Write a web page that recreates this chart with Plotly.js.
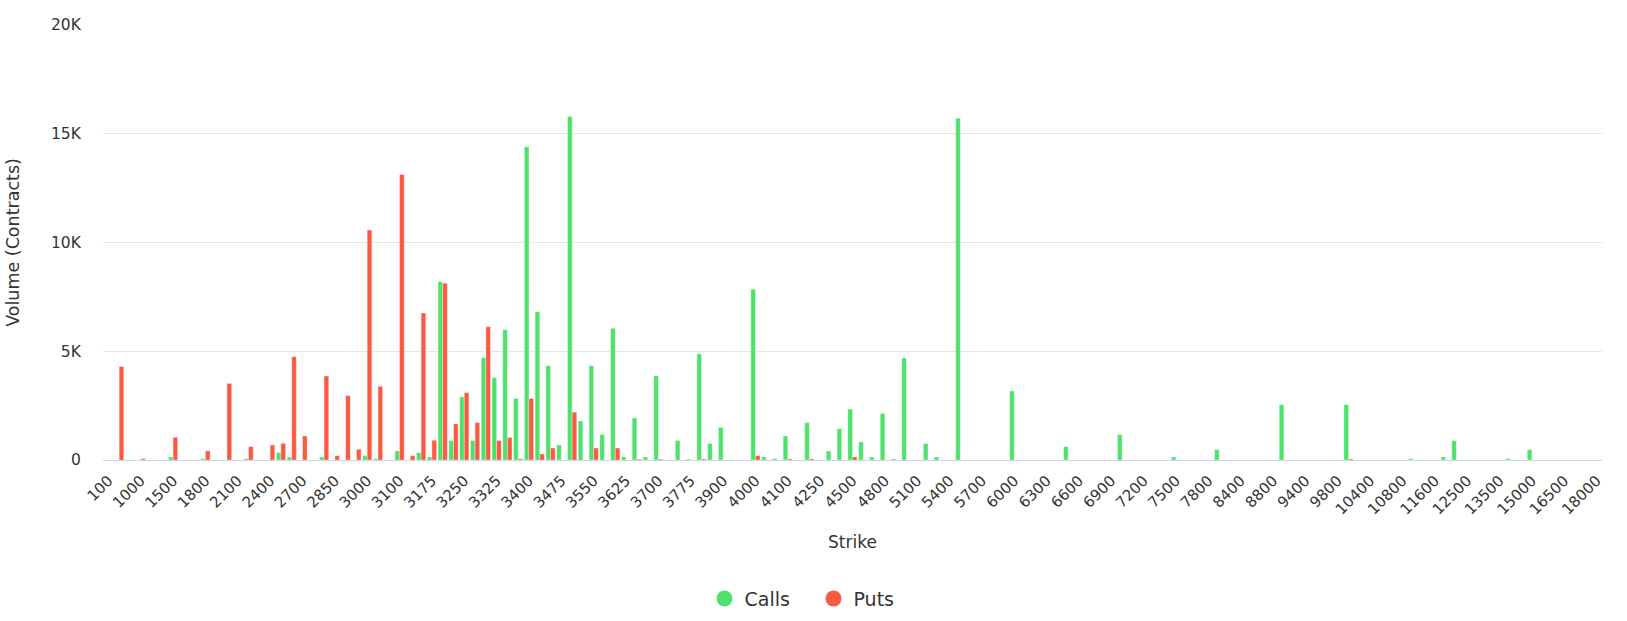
<!DOCTYPE html>
<html>
<head>
<meta charset="utf-8">
<script src="https://cdn.plot.ly/plotly-3.0.1.min.js"></script>
<style>
  html, body { margin: 0; padding: 0; background: #ffffff; }
  #chart { width: 1627px; height: 621px; }
</style>
</head>
<body>
<div id="chart"></div>
<script>
// Strike categories (every third one is labelled on the axis)
const strikes = [
  "100","500","800","1000","1200","1400","1500","1600","1700","1800",
  "1900","2000","2100","2200","2300","2400","2500","2600","2700","2750",
  "2800","2850","2900","2950","3000","3050","3075","3100","3125","3150",
  "3175","3200","3225","3250","3275","3300","3325","3350","3375","3400",
  "3425","3450","3475","3500","3525","3550","3575","3600","3625","3650",
  "3675","3700","3725","3750","3775","3800","3850","3900","3950","3975",
  "4000","4050","4075","4100","4150","4200","4250","4300","4400","4500",
  "4600","4700","4800","4900","5000","5100","5200","5300","5400","5500",
  "5600","5700","5800","5900","6000","6100","6200","6300","6400","6500",
  "6600","6700","6800","6900","7000","7100","7200","7300","7400","7500",
  "7600","7700","7800","8000","8200","8400","8500","8600","8800","9000",
  "9200","9400","9500","9600","9800","10000","10200","10400","10500","10600",
  "10800","11000","11200","11600","11800","12000","12500","12800","13000","13500",
  "14000","14500","15000","15500","16000","16500","17000","17500","18000"
];

// Call volume per strike (contracts)
const calls = [
  0,0,0,0,0,0,140,0,0,60,
  0,0,0,60,0,0,340,140,0,0,
  140,0,0,0,200,60,0,420,0,337,
  140,8200,895,2900,895,4705,3786,5993,2828,14400,
  6820,4337,690,15790,1793,4337,1170,6054,138,1931,
  138,3862,0,897,40,4874,760,1502,0,0,
  7847,138,65,1104,0,1716,0,414,1441,2340,
  828,138,2140,50,4690,0,760,138,0,15710,
  0,0,0,0,3173,0,0,0,0,613,
  0,0,0,0,1165,0,0,0,0,138,
  0,0,0,475,0,0,0,0,0,2544,
  0,0,0,0,0,2544,0,0,0,0,
  0,60,0,0,138,889,0,0,0,0,
  60,0,475,0,0,0,0,0,0
];

// Put volume per strike (contracts)
const puts = [
  0,4300,0,60,0,0,1040,0,0,420,
  0,3520,0,620,0,690,766,4751,1104,0,
  3862,200,2960,490,10570,3390,0,13130,200,6755,
  905,8130,1660,3096,1720,6130,895,1035,55,2828,
  276,552,0,2200,0,552,0,552,0,40,
  0,40,0,0,0,50,0,0,0,0,
  200,0,0,50,0,50,0,0,0,138,
  0,0,0,0,0,0,0,0,0,0,
  0,0,0,0,0,0,0,0,0,0,
  0,0,0,0,0,0,0,0,0,0,
  0,0,0,0,0,0,0,0,0,0,
  0,0,0,0,0,50,0,0,0,0,
  0,0,0,0,0,0,0,0,0,0,
  0,0,0,0,0,0,0,0,0
];

// Axis tick labels
const xTickLabels = [
  "100","1000","1500","1800","2100","2400","2700","2850","3000","3100",
  "3175","3250","3325","3400","3475","3550","3625","3700","3775","3900",
  "4000","4100","4250","4500","4800","5100","5400","5700","6000","6300",
  "6600","6900","7200","7500","7800","8400","8800","9400","9800","10400",
  "10800","11600","12500","13500","15000","16500","18000"
];
const yTickValues = [0, 5000, 10000, 15000, 20000];
const yTickLabels = ["0", "5K", "10K", "15K", "20K"];

const CALL_COLOR = "#4fe16c";
const PUT_COLOR = "#f85b42";
const FONT = "DejaVu Sans, Verdana, sans-serif";

const traces = [
  {
    type: "bar", name: "Calls", x: strikes, y: calls,
    marker: { color: CALL_COLOR, line: { color: "rgba(255,255,255,0.7)", width: 0.5 } },
    showlegend: false, hoverinfo: "x+y+name"
  },
  {
    type: "bar", name: "Puts", x: strikes, y: puts,
    marker: { color: PUT_COLOR, line: { color: "rgba(255,255,255,0.7)", width: 0.5 } },
    showlegend: false, hoverinfo: "x+y+name"
  },
  {
    type: "scatter", mode: "markers", name: "Calls", x: [null], y: [null],
    marker: { color: CALL_COLOR, size: 20, symbol: "circle" },
    showlegend: true, hoverinfo: "skip"
  },
  {
    type: "scatter", mode: "markers", name: "Puts", x: [null], y: [null],
    marker: { color: PUT_COLOR, size: 20, symbol: "circle" },
    showlegend: true, hoverinfo: "skip"
  }
];

const layout = {
  width: 1627, height: 621,
  margin: { l: 103, r: 25, t: 25, b: 161, pad: 0 },
  paper_bgcolor: "#ffffff", plot_bgcolor: "#ffffff",
  font: { family: FONT, color: "#333333", size: 15 },
  barmode: "group", bargap: 0.14, bargroupgap: 0,
  xaxis: {
    type: "category",
    categoryorder: "array", categoryarray: strikes,
    tickmode: "array", tickvals: xTickLabels, ticktext: xTickLabels,
    tickangle: -45,
    tickfont: { family: FONT, size: 15, color: "#333333" },
    ticks: "outside", ticklen: 5, tickcolor: "rgba(0,0,0,0)",
    showgrid: false, zeroline: false,
    showline: true, linecolor: "#ccd6eb", linewidth: 1,
    title: { text: "Strike", font: { family: FONT, size: 17, color: "#333333" }, standoff: 18 },
    fixedrange: true
  },
  yaxis: {
    range: [0, 20000],
    tickmode: "array", tickvals: yTickValues, ticktext: yTickLabels,
    tickfont: { family: FONT, size: 15.5, color: "#333333" },
    ticks: "outside", ticklen: 18, tickcolor: "rgba(0,0,0,0)",
    showgrid: true, gridcolor: "#e6e6e6", gridwidth: 1,
    zeroline: false, showline: false,
    title: { text: "Volume (Contracts)", font: { family: FONT, size: 17.5, color: "#333333" }, standoff: 26 },
    fixedrange: true
  },
  showlegend: true,
  legend: {
    orientation: "h",
    xref: "container", yref: "container",
    x: 0.5, xanchor: "center",
    y: 0.036, yanchor: "middle",
    font: { family: FONT, size: 19, color: "#333333" },
    itemsizing: "trace",
    entrywidth: 64, entrywidthmode: "pixels"
  }
};

Plotly.newPlot("chart", traces, layout, { displayModeBar: false, staticPlot: true });
</script>
</body>
</html>
